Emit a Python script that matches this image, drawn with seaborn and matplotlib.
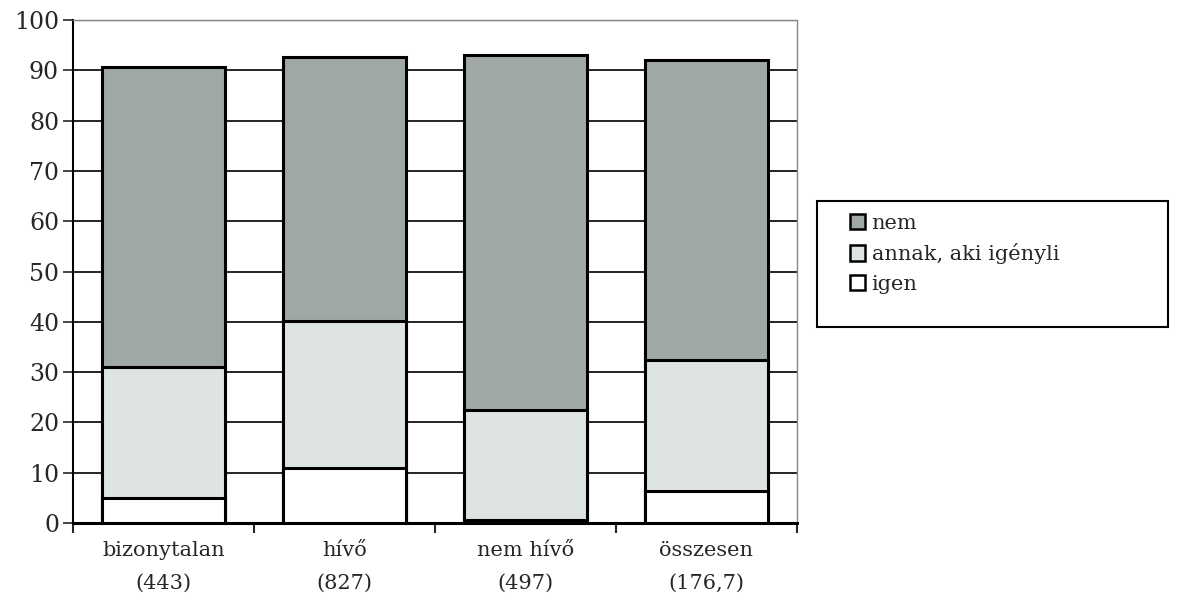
import numpy as np
import pandas as pd
import seaborn as sns
import matplotlib.pyplot as plt
from matplotlib.patches import Rectangle
from matplotlib.ticker import FixedLocator

sns.set_style("white")
plt.rcParams["font.family"] = ["DejaVu Serif"]

# values (percent)
categories = ["bizonytalan\n(443)", "hívő\n(827)", "nem hívő\n(497)", "összesen\n(176,7)"]
igen = [5.0, 10.9, 0.5, 6.3]
annak = [26.0, 29.2, 22.0, 26.1]
nem = [59.7, 52.5, 70.5, 59.7]
series_names = ["nem", "annak, aki igényli", "igen"]

df = pd.DataFrame({"kategoria": categories, "igen": igen, "annak": annak, "nem": nem})
df["cum_igen"] = df["igen"]
df["cum_annak"] = df["igen"] + df["annak"]
df["cum_nem"] = df["cum_annak"] + df["nem"]

fig = plt.figure(figsize=(11.77, 6.13), dpi=100)
ax = fig.add_axes([0.062, 0.147, 0.615, 0.82])

layers = [("cum_nem", "#9fa9a7", series_names[0]),
          ("cum_annak", "#dce5e3", series_names[1]),
          ("cum_igen", "#ffffff", series_names[2])]
for col, colr, lab in layers:
    sns.barplot(data=df, x="kategoria", y=col, color=colr, edgecolor="black",
                linewidth=2.2, width=0.68, label=lab, ax=ax, zorder=3)

ax.set_ylim(0, 100)
ax.set_xlim(-0.5, 3.5)
ax.set_yticks(np.arange(0, 101, 10))
ax.yaxis.grid(True, color="black", linewidth=1.2)
ax.set_axisbelow(True)
ax.get_ygridlines()[-1].set(color="#888888", linestyle=(0, (2, 1)), linewidth=1.0)
ax.set_xlabel("")
ax.set_ylabel("")

ax.tick_params(axis="y", length=7, width=1.2, pad=3, labelsize=17, left=True)
ax.tick_params(axis="x", which="major", length=0, pad=13, labelsize=15)
ax.xaxis.set_minor_locator(FixedLocator([-0.5, 0.5, 1.5, 2.5, 3.5]))
ax.tick_params(axis="x", which="minor", length=7, width=1.5, bottom=True)
for lbl in ax.get_xticklabels():
    lbl.set_linespacing(1.95)

ax.spines["left"].set(color="black", linewidth=1.5)
ax.spines["bottom"].set(color="black", linewidth=2.2)
ax.spines["top"].set(color="#888888", linestyle=(0, (2, 1)), linewidth=1.0)
ax.spines["right"].set(color="#888888", linestyle=(0, (2, 1)), linewidth=1.0)

handles, labels = ax.get_legend_handles_labels()
if ax.get_legend() is not None:
    ax.get_legend().remove()
leg = fig.legend(handles, labels, loc="upper left", bbox_to_anchor=(0.722, 0.651),
                 frameon=False, fontsize=15, handlelength=0.75, handleheight=0.75,
                 handletextpad=0.3, labelspacing=0.5, borderpad=0, borderaxespad=0)
for h in leg.legend_handles:
    h.set_linewidth(1.8)

# legend frame (the box in the original is wider than its text)
fig.patches.append(Rectangle((0.694, 0.467), 0.298, 0.205, transform=fig.transFigure,
                             facecolor="none", edgecolor="black", linewidth=1.5))

fig.savefig("out.png", dpi=100)
